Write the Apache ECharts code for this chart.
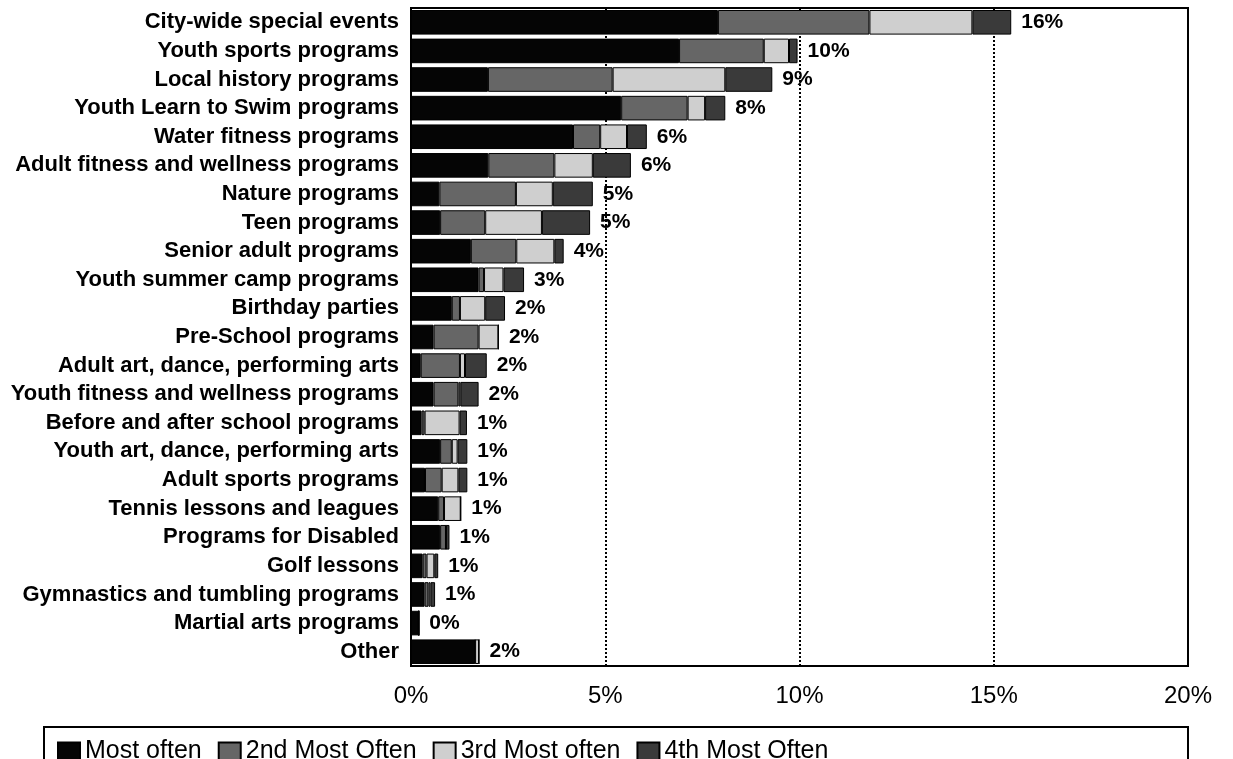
<!DOCTYPE html>
<html>
<head>
<meta charset="utf-8">
<script src="https://cdn.jsdelivr.net/npm/echarts@6/dist/echarts.min.js"></script>
<style>
  html, body { margin: 0; padding: 0; background: #fff; }
  #main { width: 1233px; height: 759px; }
</style>
</head>
<body>
<div id="main"></div>
<script>
// categories, top to bottom
var programs = [
	'City-wide special events', 'Youth sports programs', 'Local history programs',
	'Youth Learn to Swim programs', 'Water fitness programs', 'Adult fitness and wellness programs',
	'Nature programs', 'Teen programs', 'Senior adult programs', 'Youth summer camp programs',
	'Birthday parties', 'Pre-School programs', 'Adult art, dance, performing arts',
	'Youth fitness and wellness programs', 'Before and after school programs',
	'Youth art, dance, performing arts', 'Adult sports programs', 'Tennis lessons and leagues',
	'Programs for Disabled', 'Golf lessons', 'Gymnastics and tumbling programs',
	'Martial arts programs', 'Other'
];
// percent values per rank
var mostOften   = [7.9, 6.9, 1.98, 5.41, 4.17, 1.99, 0.73, 0.75, 1.54, 1.74, 1.05, 0.58, 0.25, 0.58, 0.27, 0.75, 0.36, 0.7, 0.75, 0.3, 0.35, 0.2, 1.65];
var secondOften = [3.9, 2.18, 3.21, 1.71, 0.7, 1.7, 1.97, 1.16, 1.17, 0.14, 0.21, 1.16, 1.01, 0.64, 0.08, 0.3, 0.43, 0.15, 0.15, 0.1, 0.1, 0, 0];
var thirdOften  = [2.65, 0.65, 2.9, 0.45, 0.69, 0.99, 0.95, 1.46, 0.98, 0.5, 0.65, 0.51, 0.13, 0.05, 0.9, 0.15, 0.43, 0.43, 0, 0.2, 0.05, 0, 0.1];
var fourthOften = [1.0, 0.22, 1.21, 0.52, 0.51, 0.98, 1.03, 1.24, 0.24, 0.53, 0.51, 0, 0.56, 0.47, 0.19, 0.25, 0.23, 0, 0.09, 0.1, 0.12, 0, 0];
// total labels as printed
var totalLabels = ['16%','10%','9%','8%','6%','6%','5%','5%','4%','3%','2%','2%','2%','2%','1%','1%','1%','1%','1%','1%','1%','0%','2%'];
var seriesNames = ['Most often', '2nd Most Often', '3rd Most often', '4th Most Often'];
var xTicks = { min: 0, max: 20, step: 5 };

var font = 'Liberation Sans, Arial, sans-serif';
var chart = echarts.init(document.getElementById('main'));

function barSeries(name, data, color, withLabel){
	var s = {
		name: name,
		type: 'bar',
		stack: 'total',
		barCategoryGap: '14%',
		data: data,
		itemStyle: { color: color, borderColor: '#000', borderWidth: 1 }
	};
	if (withLabel) {
		s.label = {
			show: true,
			position: 'right',
			distance: 10,
			color: '#000',
			fontFamily: font,
			fontWeight: 'bold',
			fontSize: 21,
			formatter: function(p){ return totalLabels[p.dataIndex]; }
		};
	}
	return s;
}

var option = {
	animation: false,
	backgroundColor: '#fff',
	grid: {
		left: 411, right: 45, top: 8, bottom: 93,
		show: true, borderColor: '#000', borderWidth: 2
	},
	legend: {
		data: seriesNames,
		left: 52,
		top: 734,
		icon: 'rect',
		itemWidth: 22,
		itemHeight: 18,
		itemGap: 16,
		textStyle: { color: '#000', fontSize: 25, fontFamily: font }
	},
	graphic: [{
		type: 'rect',
		shape: { x: 44, y: 727, width: 1144, height: 60 },
		style: { fill: 'none', stroke: '#000', lineWidth: 2 }
	}],
	xAxis: {
		type: 'value',
		min: xTicks.min,
		max: xTicks.max,
		interval: xTicks.step,
		axisLine: { show: true, lineStyle: { color: '#000', width: 2 } },
		axisTick: { show: false },
		axisLabel: {
			formatter: '{value}%',
			color: '#000',
			fontSize: 24,
			fontFamily: font,
			margin: 18
		},
		splitLine: { show: true, lineStyle: { color: '#000', type: 'dotted', width: 2 } }
	},
	yAxis: {
		type: 'category',
		inverse: true,
		data: programs,
		axisLine: { show: true, lineStyle: { color: '#000', width: 2 } },
		axisTick: { show: false },
		axisLabel: {
			color: '#000',
			fontSize: 22,
			fontWeight: 'bold',
			fontFamily: font,
			margin: 12
		}
	},
	series: [
		barSeries(seriesNames[0], mostOften, '#050505', false),
		barSeries(seriesNames[1], secondOften, '#666666', false),
		barSeries(seriesNames[2], thirdOften, '#cfcfcf', false),
		barSeries(seriesNames[3], fourthOften, '#3a3a3a', true)
	]
};
chart.setOption(option);
</script>
</body>
</html>
